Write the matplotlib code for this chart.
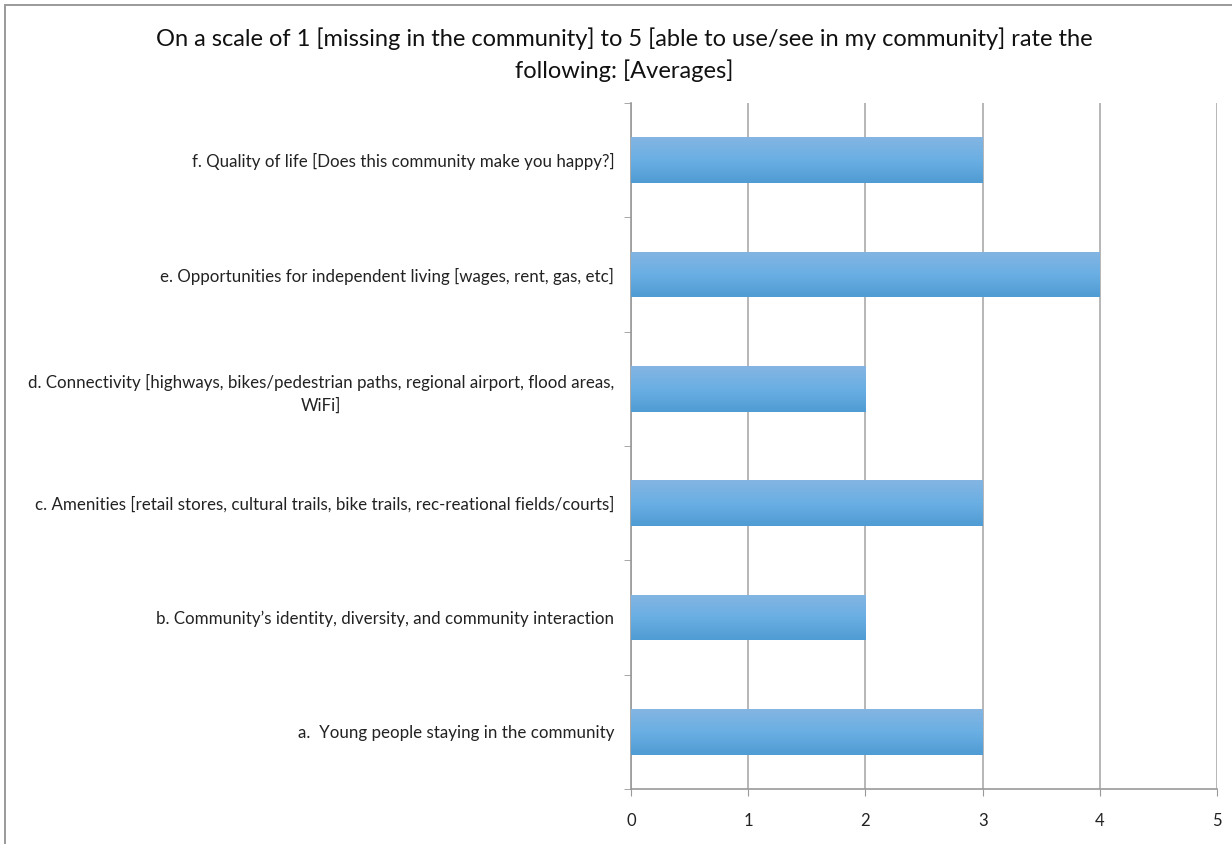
import matplotlib
matplotlib.use("Agg")
import matplotlib.pyplot as plt
import numpy as np
from matplotlib.patches import Rectangle
from matplotlib.colors import LinearSegmentedColormap

categories = [
    "a.  Young people staying in the community",
    "b. Community\u2019s identity, diversity, and community interaction",
    "c. Amenities [retail stores, cultural trails, bike trails, rec-reational fields/courts]",
    "d. Connectivity [highways, bikes/pedestrian paths, regional airport, flood areas,\nWiFi]",
    "e. Opportunities for independent living [wages, rent, gas, etc]",
    "f. Quality of life [Does this community make you happy?]",
]
values = [3, 2, 3, 2, 4, 3]
xticks = [0, 1, 2, 3, 4, 5]
title = ("On a scale of 1 [missing in the community] to 5 [able to use/see in my community] rate the\n"
         "following: [Averages]")

plt.rcParams['font.family'] = ['Lato', 'DejaVu Sans']

W, H = 1232, 844
fig = plt.figure(figsize=(W / 100, H / 100), dpi=100)
ax = fig.add_axes([631 / W, 1 - 789 / H, (1217 - 631) / W, (789 - 103) / H])

n = len(categories)
ypos = np.arange(n)
bh = 0.4
bars = ax.barh(ypos, values, height=bh, color='#66aade', edgecolor='none', zorder=2)

# vertical gradient fill for each bar
grad = np.linspace(0, 1, 256).reshape(-1, 1)
cmap = LinearSegmentedColormap.from_list('g', ['#4f9bd3', '#6aafe4', '#84b5e2'])
for b in bars:
    x0, y0 = b.get_x(), b.get_y()
    w, h = b.get_width(), b.get_height()
    im = ax.imshow(grad, cmap=cmap, aspect='auto', extent=[x0, x0 + w, y0, y0 + h],
                   origin='lower', zorder=3)
    im.set_clip_path(b)

ax.set_xlim(0, 5)
ax.set_ylim(-0.5, n - 0.5)
ax.set_xticks(xticks)
ax.set_xticklabels([str(t) for t in xticks], fontsize=12, color='#222222')
ax.set_yticks(ypos)
ax.set_yticklabels(categories, fontsize=12.2, color='#222222')
for lbl in ax.get_yticklabels():
    lbl.set_multialignment('center')
    lbl.set_linespacing(1.5)
ax.set_yticks(np.arange(-0.5, n, 1.0), minor=True)
ax.tick_params(axis='y', which='major', length=0, pad=12)
ax.tick_params(axis='y', which='minor', length=5, color='#999999', direction='out')
ax.tick_params(axis='x', which='major', length=5, color='#999999', direction='out', pad=12)

ax.grid(axis='x', color='#aaaaaa', linewidth=1.2, zorder=0)
ax.set_axisbelow(True)
for s in ['top', 'right']:
    ax.spines[s].set_visible(False)
for s in ['left', 'bottom']:
    ax.spines[s].set_color('#999999')
    ax.spines[s].set_linewidth(1.2)

fig.text(624 / W, 1 - 55 / H, title, ha='center', va='center', fontsize=17,
         color='#111111', linespacing=1.5)

border = Rectangle((5 / W, -0.1), 1.2, 1 - 5 / H + 0.1, transform=fig.transFigure,
                   fill=False, edgecolor='#9a9a9a', linewidth=1.4)
fig.patches.append(border)

fig.savefig('out.png', dpi=100)
